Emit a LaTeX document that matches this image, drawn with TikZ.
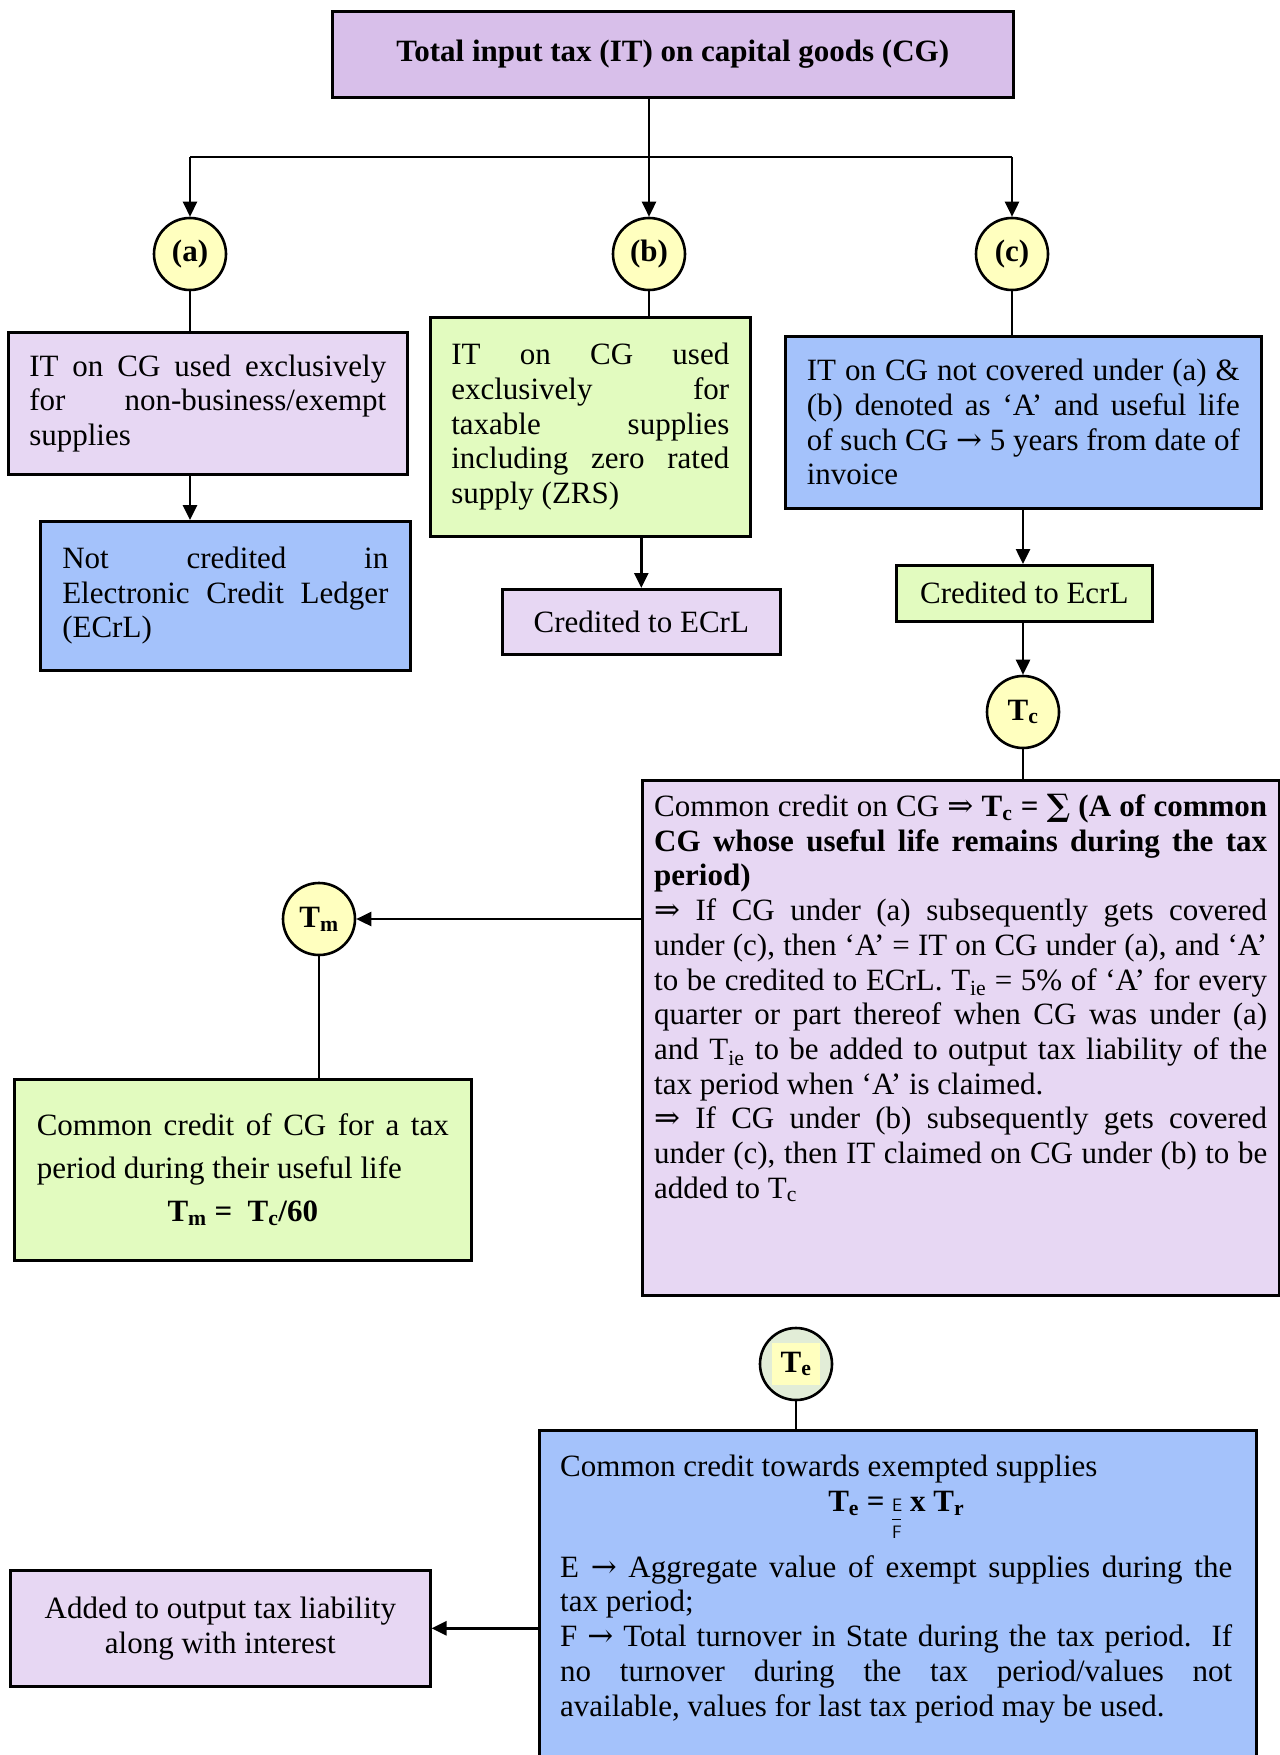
\documentclass[tikz,border=0pt]{standalone}
\usepackage{fontspec}
\setmainfont{Liberation Serif}
\newfontfamily\symfont{DejaVu Serif}
\usetikzlibrary{arrows.meta}
\definecolor{titlepurple}{HTML}{D8BFEA}
\definecolor{lavbox}{HTML}{E7D7F3}
\definecolor{bluebox}{HTML}{A4C2FB}
\definecolor{greenbox}{HTML}{E2FBBF}
\definecolor{circyellow}{HTML}{FFFFBF}
\definecolor{tegreen}{HTML}{E2EDD7}
\hbadness=10000
\vbadness=10000
\newcommand{\bodyfont}{\fontsize{31}{34.7}\selectfont}
\newcommand{\impl}{{\symfont\fontsize{31}{31}\selectfont ⇒}}
\newcommand{\goesto}{{\symfont\fontsize{31}{31}\selectfont →}}
\newcommand{\efrac}{{\fontsize{18}{18}\selectfont\sffamily\mdseries
  \makebox[0pt][l]{\raisebox{-27pt}{F}}\makebox[0pt][l]{\raisebox{-8pt}{\rule{9pt}{0.6pt}}}E}}

\begin{document}
\begin{tikzpicture}[x=1pt, y=-1pt, >={Triangle[length=15pt, width=14pt]},
  box/.style={draw=black, line width=2.6pt, inner sep=0pt, anchor=north west, font=\bodyfont,
    execute at begin node=\setlength{\parindent}{0pt}},
  dot/.style={circle, draw=black, line width=2.6pt, fill=circyellow, minimum size=72pt,
    inner sep=0pt, font=\bodyfont\bfseries},
  link/.style={line width=2.6pt}]

% Page
\useasboundingbox (0,0) rectangle (1279,1755);

%%% Title and split %%%
\node[box, fill=titlepurple, minimum width=681pt, minimum height=86pt, font=\bodyfont\bfseries] (title) at (331,10) {Total input tax (IT) on capital goods (CG)};
\coordinate (bar) at (649,157);

\node[dot] (ca) at (190,254) {(a)};
\node[dot] (cb) at (649,254) {(b)};
\node[dot] (cc) at (1012,254) {(c)};

%%% (a) branch %%%
\node[box, fill=lavbox, minimum width=399pt, minimum height=142pt, text width=357pt, align=justify] (exbox) at (7,331) {IT on CG used exclusively\linebreak for non-business/exempt\linebreak supplies};
\node[box, fill=bluebox, minimum width=370pt, minimum height=149pt, text width=326pt, align=justify] (nocred) at (39,520) {Not credited in\linebreak Electronic Credit Ledger\linebreak (ECrL)};

%%% (b) branch %%%
\node[box, fill=greenbox, minimum width=320pt, minimum height=219pt, text width=278pt, align=justify] (taxbox) at (429,316) {IT on CG used\linebreak exclusively for\linebreak taxable supplies\linebreak including zero rated\linebreak supply (ZRS)};
\node[box, fill=lavbox, minimum width=278pt, minimum height=65pt] (credb) at (501,588) {Credited to ECrL};

%%% (c) branch %%%
\node[box, fill=bluebox, minimum width=476pt, minimum height=172pt, text width=433pt, align=justify] (restbox) at (784,335) {IT on CG not covered under (a) \&\linebreak (b) denoted as `A' and useful life\linebreak of such CG \goesto\ 5 years from date of\linebreak invoice};
\node[box, fill=greenbox, minimum width=256pt, minimum height=56pt] (credc) at (895,564) {Credited to EcrL};
\node[dot] (tc) at (1023,712) {T\textsubscript{c}};

% Common credit box
\node[box, fill=lavbox, minimum width=637pt, minimum height=515pt] (tcbox) at (641,779) {};
\node[anchor=north west, inner sep=0pt, text width=613pt, align=justify, font=\bodyfont] (tctext) at (654,794) {Common credit on CG \impl\ \textbf{T\textsubscript{c} = {\symfont ∑} (A of common}\linebreak
  \textbf{CG whose useful life remains during the tax}\linebreak
  \textbf{period)}\par
  \impl\ If CG under (a) subsequently gets covered\linebreak
  under (c), then `A' = IT on CG under (a), and `A'\linebreak
  to be credited to ECrL. T\textsubscript{ie} = 5\% of `A' for every\linebreak
  quarter or part thereof when CG was under (a)\linebreak
  and T\textsubscript{ie} to be added to output tax liability of the\linebreak
  tax period when `A' is claimed.\par
  \impl\ If CG under (b) subsequently gets covered\linebreak
  under (c), then IT claimed on CG under (b) to be\linebreak
  added to T\textsubscript{c}};

%%% Monthly credit %%%
\node[dot] (tm) at (319,919) {T\textsubscript{m}};
\node[box, fill=greenbox, minimum width=457pt, minimum height=181pt, text width=412pt, align=justify, font=\fontsize{31}{43}\selectfont] (tmbox) at (13,1078) {Common credit of CG for a tax\linebreak period during their useful life\par
  {\centering\bfseries T\textsubscript{m} =\ \ T\textsubscript{c}/60\par}};

%%% Exempt supplies %%%
\node[dot, fill=tegreen] (te) at (796,1364) {{\setlength{\fboxsep}{9pt}\colorbox{circyellow}{T\textsubscript{e}}}};
\node[box, fill=bluebox, minimum width=717pt, minimum height=345pt] (tebox) at (538,1429) {};
\node[anchor=north west, inner sep=0pt, text width=672pt, align=justify, font=\bodyfont] (tetext) at (560,1455) {Common credit towards exempted supplies\par
  {\centering\bfseries T\textsubscript{e} = \efrac\ x T\textsubscript{r}\par}
  \vspace{16pt}
  E \goesto\ Aggregate value of exempt supplies during the\linebreak
  tax period;\par
  F \goesto\ Total turnover in State during the tax period.\ \ If\linebreak
  no turnover during the tax period/values not\linebreak
  available, values for last tax period may be used.};
\node[box, fill=lavbox, minimum width=420pt, minimum height=116pt, align=center] (addbox) at (9,1569) {Added to output tax liability\\along with interest};

%%% Connectors %%%
\draw[link] (bar |- title.south) -- (bar);
\draw[link] (ca |- bar) -- (cc |- bar);
\draw[link, ->] (ca |- bar) -- (ca.north);
\draw[link, ->] (bar) -- (cb.north);
\draw[link, ->] (cc |- bar) -- (cc.north);

\draw[link] (ca.south) -- (ca |- exbox.north);
\draw[link, ->] (ca |- exbox.south) -- (ca |- nocred.north);
\draw[link] (cb.south) -- (cb |- taxbox.north);
\draw[link, ->] (credb.north |- taxbox.south) -- (credb.north);
\draw[link] (cc.south) -- (cc |- restbox.north);
\draw[link, ->] (tc |- restbox.south) -- (tc |- credc.north);
\draw[link, ->] (tc |- credc.south) -- (tc.north);
\draw[link] (tc.south) -- (tc |- tcbox.north);

\draw[link, ->] (tcbox.west |- tm) -- (tm.east);
\draw[link] (tm.south) -- (tm |- tmbox.north);
\draw[link] (te.south) -- (te |- tebox.north);
\draw[link, ->] (tebox.west |- addbox) -- (addbox.east);

\end{tikzpicture}
\end{document}
